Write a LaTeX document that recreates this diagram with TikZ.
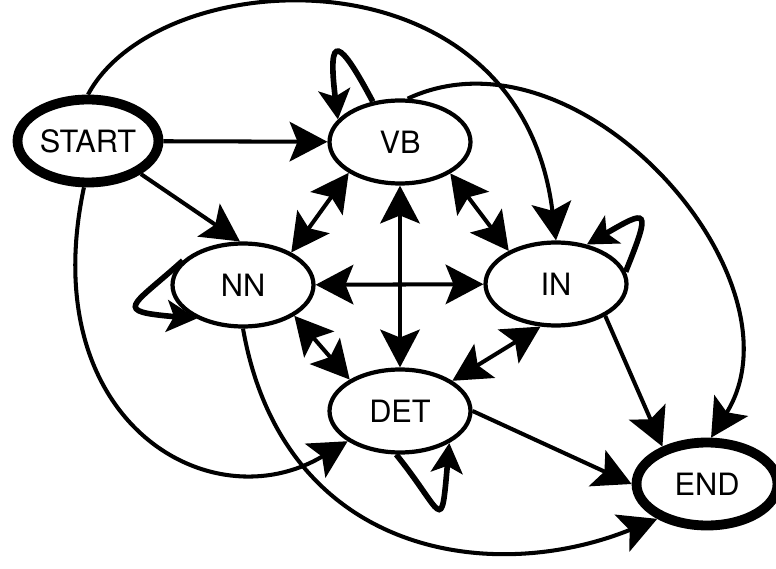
\documentclass[tikz,border=0pt]{standalone}
\usepackage{fontspec}
\setmainfont{TeX Gyre Heros}
\usetikzlibrary{arrows.meta,shapes.geometric}

\begin{document}
\begin{tikzpicture}[x=0.02cm,y=0.02cm,
    state/.style={ellipse,draw,line width=2.4pt,inner sep=0pt,
      minimum width=2.82cm,minimum height=1.66cm,
      font=\fontsize{17.5}{20}\selectfont},
    endpoint/.style={line width=5.6pt},
    edge/.style={line width=2.3pt},
    selfloop/.style={line width=3.2pt,-{Stealth[length=17pt,width=18pt,inset=4pt]}},
    >={Stealth[length=21.5pt,width=22.5pt,inset=4.5pt]}]
      \useasboundingbox (0,0) rectangle (776,568);
      \draw
        (88,427) node[state,endpoint] (START){START}
        (400,426) node[state] (VB){VB}
        (243,283) node[state] (NN){NN}
        (556,284) node[state] (IN){IN}
        (400,157) node[state] (DET){DET}
        (707,84) node[state,endpoint] (END){END};
      \begin{scope}[edge,->]
        \draw (START) to (VB);
        \draw (START.-32) to (NN.94);
        \draw (START.north) .. controls +(62:150) and +(97:300) .. (IN.north);
        \draw (START.265) .. controls +(258:240) and +(211:160) .. (DET.210);
        \draw (VB.80) .. controls +(25:190) and +(58:185) .. (END.85);
        \draw (NN.south) .. controls +(-80:230) and +(202:180) .. (END.215);
        \draw (IN.-33) to (END.140);
        \draw (DET.east) to (END.west);
      \end{scope}
      \begin{scope}[edge,<->]
        \draw (VB.211) to (NN.34);
        \draw (VB.-32) to (IN.145);
        \draw (VB) to (DET);
        \draw (NN) to (IN);
        \draw (NN.-31) to (DET.148);
        \draw (DET.30) to (IN.250);
      \end{scope}
      \begin{scope}[selfloop]
        \draw (VB.124) .. controls +(118:70) and +(97:90) .. (VB.160);
        \draw (IN.10) .. controls +(68:70) and +(30:70) .. (IN.52);
        \draw (NN.158) .. controls +(222:70) and +(175:85) .. (NN.216);
        \draw (DET.265) .. controls +(-51:75) and +(265:95) .. (DET.327);
      \end{scope}
    \end{tikzpicture}
\end{document}
